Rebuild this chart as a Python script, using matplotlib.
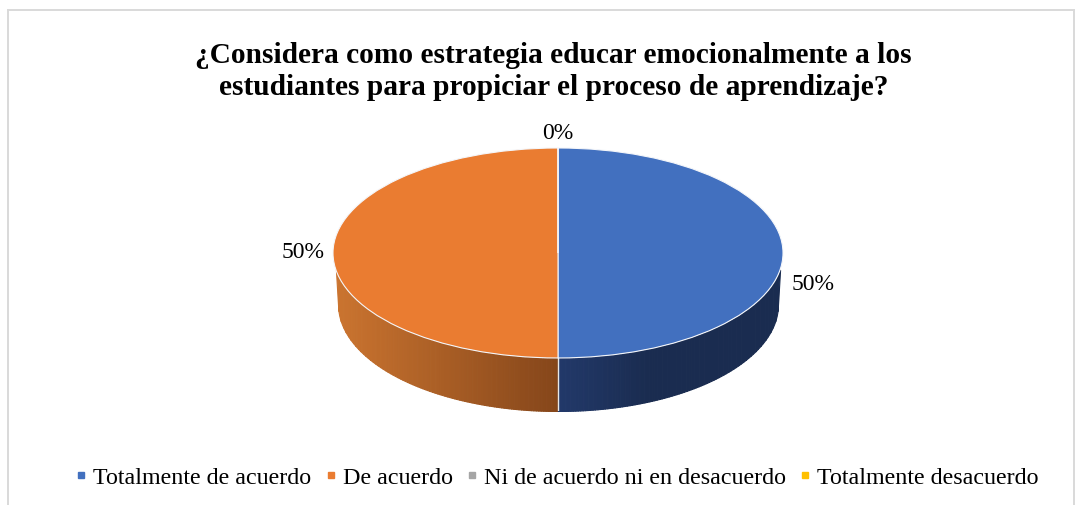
import numpy as np
import matplotlib
matplotlib.use("Agg")
import matplotlib.pyplot as plt
from matplotlib.lines import Line2D

categories = ["Totalmente de acuerdo", "De acuerdo",
              "Ni de acuerdo ni en desacuerdo", "Totalmente desacuerdo"]
values = [50, 50, 0, 0]
pct_labels = ["50%", "50%", "0%"]
colors = ["#4270BF", "#EA7C31", "#A5A5A5", "#FFC000"]
title = ("¿Considera como estrategia educar emocionalmente a los\n"
         "estudiantes para propiciar el proceso de aprendizaje?")

W, H = 1084, 506
plt.rcParams["font.family"] = ["Liberation Serif", "DejaVu Serif"]
fig = plt.figure(figsize=(W / 100, H / 100), dpi=100, facecolor="white")

# chart frame (open at the bottom)
for (x0, y0, x1, y1) in [(8, 506, 8, 11), (8, 11, 1074, 11), (1074, 11, 1074, 506)]:
    fig.add_artist(Line2D([x0 / W, x1 / W], [1 - y0 / H, 1 - y1 / H],
                          color="#D9D9D9", lw=1.4, transform=fig.transFigure))

fig.text(553.5 / W, 1 - 71.5 / H, title, ha="center", va="center", fontsize=21.2,
         fontweight="bold", color="black", linespacing=1.22)

left, right, top, bottom = 333, 783, 149, 412
ax = fig.add_axes([left / W, 1 - bottom / H, (right - left) / W, (bottom - top) / H])
depth = 0.505

wedges, _ = ax.pie(values, colors=colors, startangle=90, counterclock=False,
                   wedgeprops=dict(edgecolor="#F4F6FA", linewidth=0.8))
ax.set_aspect("auto")
ax.set_xlim(-1, 1)
ax.set_ylim(-1 - depth, 1)
ax.axis("off")


def blend(c0, c1, t):
    a = np.array(matplotlib.colors.to_rgb(c0))
    b = np.array(matplotlib.colors.to_rgb(c1))
    return tuple(a + (b - a) * t)


# extruded rim, slightly narrower at its base; drawn under the top face
rb, ryb, yb = 0.978, 1.019, -0.486
x_edge = 0.987
y_edge = -np.sqrt(1 - x_edge ** 2)


def lower_edge(x):
    ax_ = np.abs(x)
    inner = yb - ryb * np.sqrt(np.clip(1 - (ax_ / rb) ** 2, 0, 1))
    slope = (y_edge - yb) / (x_edge - rb)
    outer = yb + slope * (ax_ - rb)
    return np.where(ax_ < rb, inner, outer)


xs = np.linspace(-x_edge, x_edge, 181)
for x0, x1 in zip(xs[:-1], xs[1:]):
    xx = np.linspace(x0, x1, 4)
    y_top = -np.sqrt(np.clip(1 - xx ** 2, 0, 1))
    xm = (x0 + x1) / 2
    if xm < 0:
        col = blend("#CC7530", "#85461A", xm + 1)
    else:
        col = blend("#22396A", "#1A2C50", min(xm / 0.4, 1))
    ax.fill_between(xx, lower_edge(xx), y_top, facecolor=col, edgecolor=col, lw=0.8, zorder=0.5)
ax.plot([0, 0], [-1, -1 - depth], color="#E8E8E8", lw=1.0, zorder=0.6)

# data labels
label_pos = [(1.133, -0.295), (-1.133, 0.01), (0.0, 1.145)]
for txt, (lx, ly) in zip(pct_labels, label_pos):
    ax.text(lx, ly, txt, ha="center", va="center", fontsize=17, color="black", clip_on=False)

handles = [Line2D([], [], marker="s", linestyle="none", markersize=3.8, color=c) for c in colors]
fig.legend(handles, categories, loc="center", bbox_to_anchor=(554 / W, 1 - 478 / H), ncol=4,
           frameon=False, fontsize=17.3, handletextpad=0.0, columnspacing=0.3,
           handlelength=1.0, borderpad=0)

fig.savefig("out.png", dpi=100)
